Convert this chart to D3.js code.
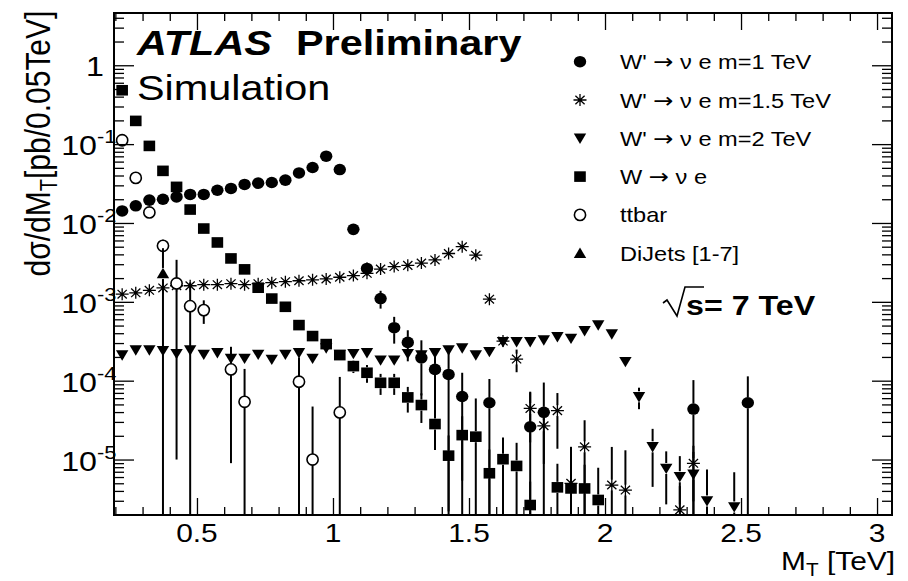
<!DOCTYPE html>
<html>
<head>
<meta charset="utf-8">
<script src="https://cdn.jsdelivr.net/npm/d3@7"></script>
<style>
  html, body { margin: 0; padding: 0; background: #fff; }
  svg { display: block; font-family: "Liberation Sans", Arial, Helvetica, sans-serif; }
</style>
</head>
<body>
<svg id="chart" width="908" height="581"></svg>
<script>
// ---- Transverse-mass spectra, bins of 0.05 TeV (bin centres in TeV) ----

// W' -> e nu, m = 1 TeV
const wp1Bins = [0.225,0.275,0.325,0.375,0.425,0.475,0.525,0.575,0.625,0.675,0.725,0.775,0.825,0.875,0.925,0.975,1.025,1.075,1.125,1.175,1.225,1.275,1.325,1.375,1.425,1.475,1.575,1.725,1.775,2.325,2.525];
const wp1Xsec = [0.0142,0.0165,0.0195,0.0200,0.0214,0.0230,0.0230,0.0260,0.0274,0.0308,0.0320,0.0326,0.0349,0.0431,0.0505,0.0703,0.0476,0.0083,0.00265,0.0011,0.00047,0.000306,0.000195,0.000139,0.00012,0.000063,0.0000525,0.000026,0.0000397,0.0000437,0.0000525];
const wp1Err  = [0.0008,0.0009,0.001,0.001,0.0011,0.0012,0.0012,0.0013,0.0014,0.0015,0.0016,0.0016,0.0017,0.0021,0.0025,0.0033,0.0027,0.0009,0.0005,0.00028,0.000175,0.00013,0.00013,0.0001,0.00012,0.000063,0.0000525,0.000045,0.000055,0.000058,0.000061];

// W' -> e nu, m = 1.5 TeV
const wp15Bins = [0.225,0.275,0.325,0.375,0.425,0.475,0.525,0.575,0.625,0.675,0.725,0.775,0.825,0.875,0.925,0.975,1.025,1.075,1.125,1.175,1.225,1.275,1.325,1.375,1.425,1.475,1.525,1.575,1.625,1.675,1.725,1.775,1.825,1.875,1.925,2.025,2.075,2.275,2.325];
const wp15Xsec = [1.25e-3,1.3e-3,1.4e-3,1.5e-3,1.6e-3,1.6e-3,1.65e-3,1.65e-3,1.7e-3,1.65e-3,1.7e-3,1.75e-3,1.8e-3,1.85e-3,1.9e-3,1.95e-3,2.05e-3,2.15e-3,2.3e-3,2.6e-3,2.8e-3,2.9e-3,3.1e-3,3.4e-3,4.1e-3,5.0e-3,3.9e-3,1.08e-3,3.18e-4,1.88e-4,4.45e-5,2.68e-5,4.17e-5,5.0e-6,1.45e-5,4.75e-6,4.1e-6,2.3e-6,8.95e-6];
const wp15Err  = [5e-5,5e-5,6e-5,6e-5,6e-5,6e-5,7e-5,7e-5,7e-5,7e-5,7e-5,7e-5,8e-5,8e-5,8e-5,8e-5,9e-5,9e-5,1e-4,1.1e-4,1.2e-4,1.2e-4,1.3e-4,1.4e-4,1.6e-4,1.9e-4,1.7e-4,1e-4,4e-5,6e-5,2.8e-5,1.8e-5,2.8e-5,9.5e-6,1.7e-5,9.7e-6,9e-6,2.3e-6,6e-6];

// W' -> e nu, m = 2 TeV
const wp2Bins = [0.225,0.275,0.325,0.375,0.425,0.475,0.525,0.575,0.625,0.675,0.725,0.775,0.825,0.875,0.925,0.975,1.025,1.075,1.125,1.175,1.225,1.275,1.325,1.375,1.425,1.475,1.525,1.575,1.625,1.675,1.725,1.775,1.825,1.875,1.925,1.975,2.025,2.075,2.125,2.175,2.225,2.275,2.325,2.375,2.475];
const wp2Xsec = [2.11e-4,2.44e-4,2.44e-4,2.4e-4,2.2e-4,2.44e-4,2.15e-4,2.25e-4,1.91e-4,1.91e-4,2.15e-4,1.86e-4,2.15e-4,2.25e-4,1.91e-4,2.59e-4,2.15e-4,2.2e-4,2.25e-4,1.82e-4,1.82e-4,2.2e-4,2.11e-4,2.25e-4,2.44e-4,2.59e-4,2.11e-4,2.33e-4,3.11e-4,3.11e-4,3.11e-4,3.27e-4,3.6e-4,3.43e-4,4.29e-4,5.07e-4,3.9e-4,1.74e-4,6.25e-5,1.45e-5,7.7e-6,6.05e-6,6.5e-6,2.98e-6,2.5e-6];
const wp2Err  = [2.1e-5,2.3e-5,2.3e-5,2.3e-5,2.2e-5,2.3e-5,2.2e-5,2.2e-5,2.0e-5,2.0e-5,2.2e-5,2.0e-5,2.2e-5,2.2e-5,2.0e-5,2.4e-5,2.2e-5,2.2e-5,2.2e-5,2.0e-5,2.0e-5,2.2e-5,2.2e-5,2.2e-5,2.3e-5,2.4e-5,2.2e-5,2.3e-5,3e-5,3e-5,3e-5,3.2e-5,3.5e-5,3.4e-5,4e-5,4.5e-5,4e-5,2.5e-5,1.9e-5,1e-5,5e-6,5e-6,6e-6,4.5e-6,4.4e-6];

// W -> e nu
const wBins = [0.225,0.275,0.325,0.375,0.425,0.475,0.525,0.575,0.625,0.675,0.725,0.775,0.825,0.875,0.925,0.975,1.025,1.075,1.125,1.175,1.225,1.275,1.325,1.375,1.425,1.475,1.525,1.575,1.625,1.675,1.725,1.825,1.875,1.925,1.975];
const wXsec = [0.482,0.197,0.0949,0.0458,0.0287,0.0148,0.0085,0.00566,0.00355,0.00258,0.00151,0.0011,8.65e-4,5.07e-4,3.68e-4,2.91e-4,2.11e-4,1.53e-4,1.26e-4,9.4e-5,9.4e-5,6.14e-5,4.91e-5,2.82e-5,1.12e-5,2.04e-5,1.95e-5,6.7e-6,1.01e-5,8.3e-6,2.65e-6,4.44e-6,4.3e-6,4.3e-6,3.07e-6];
const wErr  = [0.006,0.003,0.0015,0.0008,0.0006,0.0004,0.0003,0.00022,0.00016,0.00013,0.0001,0.00008,0.00007,0.00005,0.00004,0.000035,0.00003,0.000028,0.000032,0.000028,0.000028,0.000022,0.00002,0.000015,0.000009,0.000015,0.00004,0.0000067,0.000009,0.000008,0.0000026,0.0000044,0.0000043,0.0000043,0.0000048];

// ttbar
const ttBins = [0.225,0.275,0.325,0.375,0.425,0.475,0.525,0.625,0.675,0.875,0.925,1.025];
const ttXsec = [0.112,0.0373,0.0136,0.00513,0.00171,8.81e-4,7.85e-4,1.39e-4,5.4e-5,9.7e-5,1.0e-5,3.96e-5];
const ttErr  = [0.006,0.003,0.0015,0.001,0.0017,0.00088,0.00026,0.00013,0.000087,0.0001,0.000037,0.000072];

// QCD dijets (slices 1-7)
const djBins = [0.375];
const djXsec = [2.29e-3];
const djErr  = [2.5e-3];

// Axis ticks and legend text
const xMajorTicks = [0.5, 1, 1.5, 2, 2.5, 3];
const xTickLabels = ["0.5", "1", "1.5", "2", "2.5", "3"];
const yMajorTicks = [1, 1e-1, 1e-2, 1e-3, 1e-4, 1e-5];
const yTickExps   = ["", "-1", "-2", "-3", "-4", "-5"];
// each entry: [text before arrow, text after arrow] (null second part = no arrow)
const legendLabels = [
  ["W' ", " \u03bd e m=1 TeV"],
  ["W' ", " \u03bd e m=1.5 TeV"],
  ["W'  ", " \u03bd e m=2 TeV"],
  ["W ", " \u03bd e"],
  ["ttbar", null],
  ["DiJets [1-7]", null]
];

// ---- Layout ----
const plot = { left: 114, right: 892, top: 13, bottom: 515 };
const SX = 1.15;  // horizontal glyph stretch of the canvas

const series = [
  { bins: wp1Bins,  xsec: wp1Xsec,  err: wp1Err,  marker: "circle" },
  { bins: wp15Bins, xsec: wp15Xsec, err: wp15Err, marker: "star" },
  { bins: wp2Bins,  xsec: wp2Xsec,  err: wp2Err,  marker: "tridown" },
  { bins: wBins,    xsec: wXsec,    err: wErr,    marker: "square" },
  { bins: ttBins,   xsec: ttXsec,   err: ttErr,   marker: "open" },
  { bins: djBins,   xsec: djXsec,   err: djErr,   marker: "triup" }
];

const x = d3.scaleLinear().domain([0.195, 3.055]).range([plot.left, plot.right]);
const y = d3.scaleLog().domain([1.98e-6, 4.6]).range([plot.bottom, plot.top]);
const yMin = y.domain()[0];

const svg = d3.select("#chart");

function text(g, s, px, py, size, o = {}) {
  return g.append("text")
    .attr("transform", `translate(${px},${py}) scale(${SX},1)`)
    .attr("font-size", size)
    .attr("text-anchor", o.anchor || "start")
    .attr("font-weight", o.weight || "normal")
    .attr("font-style", o.style || "normal")
    .attr("fill", "#000")
    .text(s);
}

// marker shapes drawn around (0,0)
function drawMarker(g, type) {
  switch (type) {
    case "circle":
      g.append("ellipse").attr("rx", 6.2).attr("ry", 5.8).attr("fill", "#000");
      break;
    case "open":
      g.append("ellipse").attr("rx", 5.6).attr("ry", 5.6)
        .attr("fill", "#fff").attr("stroke", "#000").attr("stroke-width", 1.6);
      break;
    case "square":
      g.append("rect").attr("x", -5.8).attr("y", -5.3).attr("width", 11.6).attr("height", 10.6).attr("fill", "#000");
      break;
    case "tridown":
      g.append("path").attr("d", "M-6.2,-4.8L6.2,-4.8L0,5.6Z").attr("fill", "#000");
      break;
    case "triup":
      g.append("path").attr("d", "M-6.2,4.8L6.2,4.8L0,-5.6Z").attr("fill", "#000");
      break;
    case "star":
      g.append("path")
        .attr("d", "M-6.5,0H6.5M0,-6V6M-4.6,-4.3L4.6,4.3M-4.6,4.3L4.6,-4.3")
        .attr("fill", "none").attr("stroke", "#000").attr("stroke-width", 1.3);
      break;
  }
}

// ---- Data ----
const dataLayer = svg.append("g");
series.forEach(s => {
  const pts = s.bins.map((b, i) => ({ b, v: s.xsec[i], e: s.err[i] }));
  const g = dataLayer.append("g");
  // vertical error bars, drawn outside the marker body
  pts.forEach(p => {
    const cx = x(p.b), cy = y(p.v);
    const yHi = Math.max(plot.top, y(p.v + p.e));
    const lo = p.v - p.e;
    const yLo = lo > yMin ? y(lo) : plot.bottom;
    const gap = 5.5;
    if (cy - gap > yHi)
      g.append("line").attr("x1", cx).attr("x2", cx).attr("y1", yHi).attr("y2", cy - gap)
        .attr("stroke", "#000").attr("stroke-width", 2);
    if (yLo > cy + gap)
      g.append("line").attr("x1", cx).attr("x2", cx).attr("y1", cy + gap).attr("y2", yLo)
        .attr("stroke", "#000").attr("stroke-width", 2);
  });
  pts.forEach(p => {
    const m = g.append("g").attr("transform", `translate(${x(p.b)},${y(p.v)})`);
    drawMarker(m, s.marker);
  });
});

// ---- Frame and ticks ----
const xMinorTicks = d3.range(2, 31).map(d => d / 10)
  .filter(v => !xMajorTicks.includes(v) && v > x.domain()[0] && v < x.domain()[1]);
const yMinorTicks = [];
for (let e = -6; e <= 0; e++) {
  for (let k = 2; k <= 9; k++) {
    const v = k * Math.pow(10, e);
    if (v > y.domain()[0] && v < y.domain()[1]) yMinorTicks.push(v);
  }
}

function tickSet(axis, transform, vals, size) {
  svg.append("g").attr("transform", transform)
    .call(axis.tickValues(vals).tickSize(size).tickFormat(""))
    .call(g => g.select(".domain").remove())
    .call(g => g.selectAll("text").remove())
    .selectAll("line").attr("stroke", "#000").attr("stroke-width", 1.3);
}
tickSet(d3.axisBottom(x), `translate(0,${plot.bottom})`, xMajorTicks, -17);
tickSet(d3.axisBottom(x), `translate(0,${plot.bottom})`, xMinorTicks, -8);
tickSet(d3.axisTop(x), `translate(0,${plot.top})`, xMajorTicks, -17);
tickSet(d3.axisTop(x), `translate(0,${plot.top})`, xMinorTicks, -8);
tickSet(d3.axisLeft(y), `translate(${plot.left},0)`, yMajorTicks, -20);
tickSet(d3.axisLeft(y), `translate(${plot.left},0)`, yMinorTicks, -10);
tickSet(d3.axisRight(y), `translate(${plot.right},0)`, yMajorTicks, -20);
tickSet(d3.axisRight(y), `translate(${plot.right},0)`, yMinorTicks, -10);

svg.append("rect")
  .attr("x", plot.left).attr("y", plot.top)
  .attr("width", plot.right - plot.left).attr("height", plot.bottom - plot.top)
  .attr("fill", "none").attr("stroke", "#000").attr("stroke-width", 2);

// ---- Tick labels ----
const labels = svg.append("g");
xMajorTicks.forEach((v, i) => text(labels, xTickLabels[i], x(v), 542, 26, { anchor: "middle" }));
yMajorTicks.forEach((v, i) => {
  const ty = y(v);
  if (yTickExps[i] === "") {
    text(labels, "1", 104, ty + 11, 28, { anchor: "end" });
  } else {
    text(labels, "10", 97, ty + 11, 28, { anchor: "end" });
    text(labels, yTickExps[i], 97, ty - 1, 19, { anchor: "start" });
  }
});

// ---- Axis titles ----
const yTitle = svg.append("text")
  .attr("transform", `translate(50,${(10 + 277) / 2}) rotate(-90) scale(1,${SX})`)
  .attr("font-size", 30).attr("text-anchor", "middle").attr("fill", "#000");
yTitle.append("tspan").text("d\u03c3/dM");
yTitle.append("tspan").attr("font-size", 20).attr("dy", 6).text("T");
yTitle.append("tspan").attr("dy", -6).text("[pb/0.05TeV]");

const xTitle = svg.append("text")
  .attr("transform", `translate(895,570) scale(${SX},1)`)
  .attr("font-size", 26).attr("text-anchor", "end").attr("fill", "#000");
xTitle.append("tspan").text("M");
xTitle.append("tspan").attr("font-size", 18).attr("dy", 6).text("T");
xTitle.append("tspan").attr("dy", -6).text(" [TeV]");

// ---- Experiment labels ----
text(svg, "ATLAS", 137, 55, 36, { weight: "bold", style: "italic" });
text(svg, "Preliminary", 296, 55, 36, { weight: "bold" });
text(svg, "Simulation", 137, 100, 36);

// centre-of-mass energy
svg.append("path")
  .attr("d", "M663,303L667,300L677,316L685,287L704,287")
  .attr("fill", "none").attr("stroke", "#000").attr("stroke-width", 1.6);
text(svg, "s= 7 TeV", 686, 315, 28, { weight: "bold" });

// ---- Legend ----
const legend = svg.append("g");
legendLabels.forEach((lab, i) => {
  const ly = 61.7 + i * 38.3;
  const m = legend.append("g").attr("transform", `translate(580,${ly})`);
  drawMarker(m, series[i].marker);
  const t = text(legend, null, 620, ly + 7.5, 20.5);
  t.append("tspan").text(lab[0]);
  if (lab[1] !== null) {
    t.append("tspan").attr("font-family", "'DejaVu Sans', sans-serif").attr("font-size", 21).text("\u2192");
    t.append("tspan").text(lab[1]);
  }
});
</script>
</body>
</html>
